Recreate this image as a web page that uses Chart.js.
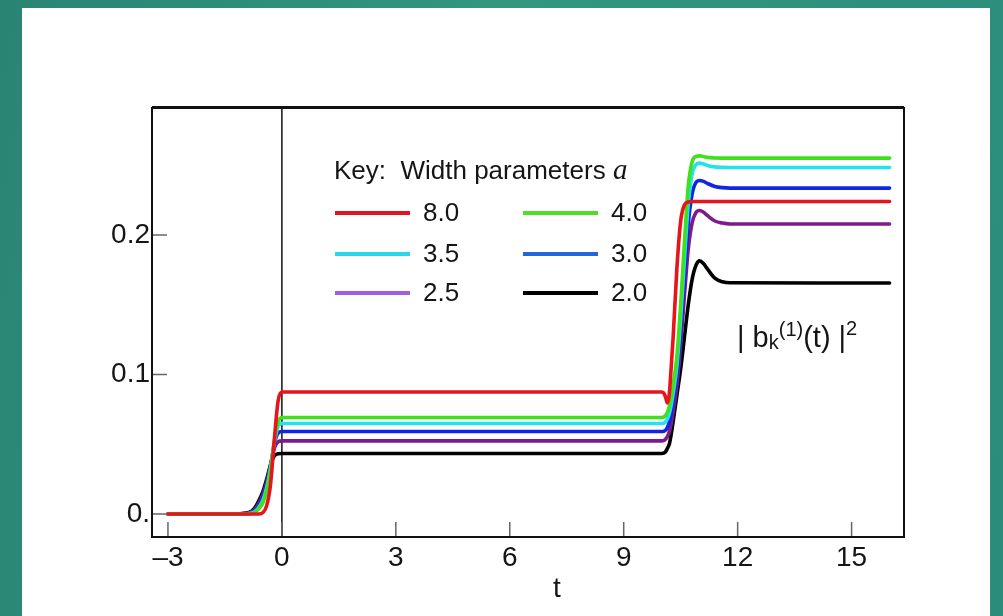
<!DOCTYPE html>
<html>
<head>
<meta charset="utf-8">
<script src="https://cdn.jsdelivr.net/npm/chart.js@4.4.1/dist/chart.umd.min.js"></script>
<style>
  html, body { margin: 0; padding: 0; width: 1003px; height: 616px; overflow: hidden; }
  body { position: relative; background: linear-gradient(100deg, #2a8474 0%, #31977f 45%, #2b8c7b 100%); }
  #panel { position: absolute; left: 22px; top: 8px; width: 968px; height: 608px; background: #ffffff; }
  #wrap { position: absolute; left: 0; top: 0; width: 1003px; height: 616px; }
</style>
</head>
<body>
<div id="panel"></div>
<div id="wrap"><canvas id="chart" width="1003" height="616"></canvas></div>
<script>
// Sample times t (shared by every curve)
const times = [-3, -1.2, -1.0, -0.8, -0.7, -0.6, -0.5, -0.4, -0.3, -0.2, -0.1, 0,
  10.0, 10.05, 10.1, 10.15, 10.2, 10.25, 10.3, 10.4, 10.5, 10.6, 10.7, 10.8, 10.9,
  11.0, 11.1, 11.2, 11.4, 11.6, 11.8, 16];

// |b_k^(1)(t)|^2 for each width parameter a
const width80 = [0, 0, 0, 0, 0, 0, 0.001, 0.006, 0.021, 0.053, 0.081, 0.0874,
  0.0874, 0.0868, 0.0840, 0.0795, 0.0860, 0.105, 0.126, 0.176, 0.210, 0.2215, 0.2236, 0.224, 0.224,
  0.224, 0.224, 0.224, 0.224, 0.224, 0.224, 0.224];
const width40 = [0, 0, 0, 0.0004, 0.0015, 0.004, 0.008, 0.017, 0.031, 0.052, 0.066, 0.0692,
  0.0692, 0.0694, 0.0705, 0.073, 0.077, 0.083, 0.092, 0.113, 0.150, 0.195, 0.235, 0.2525, 0.2563,
  0.2567, 0.2562, 0.2556, 0.2552, 0.2551, 0.2551, 0.2551];
const width35 = [0, 0, 0, 0.0007, 0.002, 0.005, 0.010, 0.019, 0.033, 0.051, 0.063, 0.0649,
  0.0649, 0.0651, 0.066, 0.068, 0.072, 0.078, 0.086, 0.106, 0.140, 0.183, 0.222, 0.2435, 0.2503,
  0.2515, 0.2509, 0.2498, 0.2488, 0.2485, 0.2484, 0.2484];
const width30 = [0, 0, 0.0002, 0.001, 0.003, 0.006, 0.012, 0.021, 0.034, 0.050, 0.058, 0.0591,
  0.0591, 0.0593, 0.060, 0.062, 0.066, 0.072, 0.080, 0.100, 0.131, 0.171, 0.208, 0.2290, 0.2375,
  0.2390, 0.2384, 0.2370, 0.2348, 0.2339, 0.2336, 0.2336];
const width25 = [0, 0, 0.0003, 0.0015, 0.004, 0.008, 0.014, 0.023, 0.035, 0.047, 0.0518, 0.0524,
  0.0524, 0.0526, 0.0535, 0.0555, 0.059, 0.065, 0.073, 0.092, 0.121, 0.157, 0.190, 0.2085, 0.2160,
  0.2175, 0.2163, 0.2140, 0.2100, 0.2085, 0.2079, 0.2078];
const width20 = [0, 0, 0.0005, 0.002, 0.005, 0.010, 0.016, 0.025, 0.035, 0.0415, 0.0432, 0.0434,
  0.0434, 0.0436, 0.0445, 0.047, 0.050, 0.057, 0.066, 0.085, 0.104, 0.127, 0.150, 0.168, 0.178,
  0.1814, 0.1795, 0.1758, 0.1690, 0.1664, 0.1657, 0.1656];

// Axis ticks
const xTicks = [-3, 0, 3, 6, 9, 12, 15];
const yTicks = [0, 0.1, 0.2];

// Key entries: label, curve colour, key swatch colour
const keyLabels = ['8.0', '4.0', '3.5', '3.0', '2.5', '2.0'];
const curveColors = ['#e8131b', '#3fe01c', '#22e2ee', '#1026e0', '#7e1a8c', '#000000'];
const keyColors = ['#e3141c', '#52dd2a', '#2bd6e6', '#2266de', '#a25ee0', '#000000'];
const seriesValues = [width80, width40, width35, width30, width25, width20];

const FONT = '"Liberation Sans", Arial, Helvetica, sans-serif';
const INK = '#151515';

const datasets = seriesValues.map((vals, i) => ({
  label: keyLabels[i],
  data: times.map((t, j) => ({ x: t, y: vals[j] })),
  borderColor: curveColors[i],
  backgroundColor: curveColors[i],
  borderWidth: 3.6,
  pointRadius: 0,
  fill: false,
  cubicInterpolationMode: 'monotone',
  borderJoinStyle: 'round',
  borderCapStyle: 'round'
}));

// Frame, zero line and inward tick marks
const framePlugin = {
  id: 'frame',
  beforeDatasetsDraw(chart) {
    const { ctx, chartArea: a, scales: { x } } = chart;
    const px = x.getPixelForValue(0);
    ctx.save();
    ctx.strokeStyle = '#111';
    ctx.lineWidth = 1.5;
    ctx.beginPath();
    ctx.moveTo(px, a.top);
    ctx.lineTo(px, a.bottom);
    ctx.stroke();
    ctx.strokeStyle = '#666';
    ctx.lineWidth = 1.5;
    ctx.beginPath();
    xTicks.forEach(v => {
      const p = x.getPixelForValue(v);
      ctx.moveTo(p, a.bottom);
      ctx.lineTo(p, a.bottom - 15);
    });
    yTicks.forEach(v => {
      const p = chart.scales.y.getPixelForValue(v);
      ctx.moveTo(a.left, p);
      ctx.lineTo(a.left + 15, p);
    });
    ctx.stroke();
    ctx.restore();
  },
  afterDatasetsDraw(chart) {
    const { ctx, chartArea: a } = chart;
    ctx.save();
    ctx.strokeStyle = '#111';
    ctx.lineWidth = 2;
    ctx.strokeRect(a.left, a.top, a.right - a.left, a.bottom - a.top);
    ctx.beginPath();
    ctx.moveTo(a.left, a.top - 1);
    ctx.lineTo(a.right, a.top - 1);
    ctx.stroke();
    ctx.restore();
  }
};

// Key box, axis name and curve label
const notesPlugin = {
  id: 'notes',
  afterDraw(chart) {
    const { ctx } = chart;
    ctx.save();
    ctx.fillStyle = INK;
    ctx.textBaseline = 'alphabetic';
    ctx.textAlign = 'left';
    ctx.font = '26px ' + FONT;
    const head = 'Key:  Width parameters ';
    ctx.fillText(head, 334, 179);
    const hw = ctx.measureText(head).width;
    ctx.font = 'italic 29px "Liberation Serif", "DejaVu Serif", serif';
    ctx.fillText('a', 334 + hw, 179);

    const rowsY = [213, 254, 293];
    const colsX = [335, 523];
    keyLabels.forEach((lab, i) => {
      const col = i % 2, row = Math.floor(i / 2);
      const x0 = colsX[col], y0 = rowsY[row];
      ctx.strokeStyle = keyColors[i];
      ctx.lineWidth = 4;
      ctx.beginPath();
      ctx.moveTo(x0, y0);
      ctx.lineTo(x0 + 75, y0);
      ctx.stroke();
      ctx.fillStyle = INK;
      ctx.font = '26px ' + FONT;
      ctx.textBaseline = 'middle';
      ctx.fillText(lab, x0 + 88, y0 + 1);
    });

    // axis name
    ctx.textAlign = 'center';
    ctx.textBaseline = 'alphabetic';
    ctx.font = '28px ' + FONT;
    ctx.fillText('t', 557, 597);

    // | b_k^(1)(t) |^2
    ctx.textAlign = 'left';
    let cx = 737;
    const base = 347;
    const big = '29px ' + FONT, small = '20px ' + FONT;
    const part = (txt, font, dy) => {
      ctx.font = font;
      ctx.fillText(txt, cx, base + dy);
      cx += ctx.measureText(txt).width;
    };
    part('| b', big, 0);
    part('k', small, 2);
    part('(1)', small, -11);
    part('(t) |', big, 0);
    part('2', small, -12);
    ctx.restore();
  }
};

new Chart(document.getElementById('chart'), {
  type: 'line',
  data: { datasets },
  options: {
    responsive: false,
    animation: false,
    devicePixelRatio: 1,
    layout: { padding: { left: 0, right: 99, top: 108, bottom: 0 } },
    plugins: { legend: { display: false }, tooltip: { enabled: false } },
    scales: {
      x: {
        type: 'linear',
        min: -3.42,
        max: 16.38,
        afterBuildTicks: s => { s.ticks = xTicks.map(v => ({ value: v })); },
        afterFit: s => { s.height = 79; },
        grid: { display: false, drawTicks: false },
        border: { display: false },
        ticks: {
          autoSkip: false, maxRotation: 0, padding: 4, color: INK,
          font: { family: FONT, size: 28 },
          callback: v => (v < 0 ? '\u2013' + Math.abs(v) : String(v))
        }
      },
      y: {
        type: 'linear',
        min: -0.0165,
        max: 0.291,
        afterBuildTicks: s => { s.ticks = yTicks.map(v => ({ value: v })); },
        afterFit: s => { s.width = 152; },
        grid: { display: false, drawTicks: false },
        border: { display: false },
        ticks: {
          padding: 2, color: INK,
          font: { family: FONT, size: 28 },
          callback: v => (v === 0 ? '0.' : v.toFixed(1))
        }
      }
    }
  },
  plugins: [framePlugin, notesPlugin]
});
</script>
</body>
</html>
